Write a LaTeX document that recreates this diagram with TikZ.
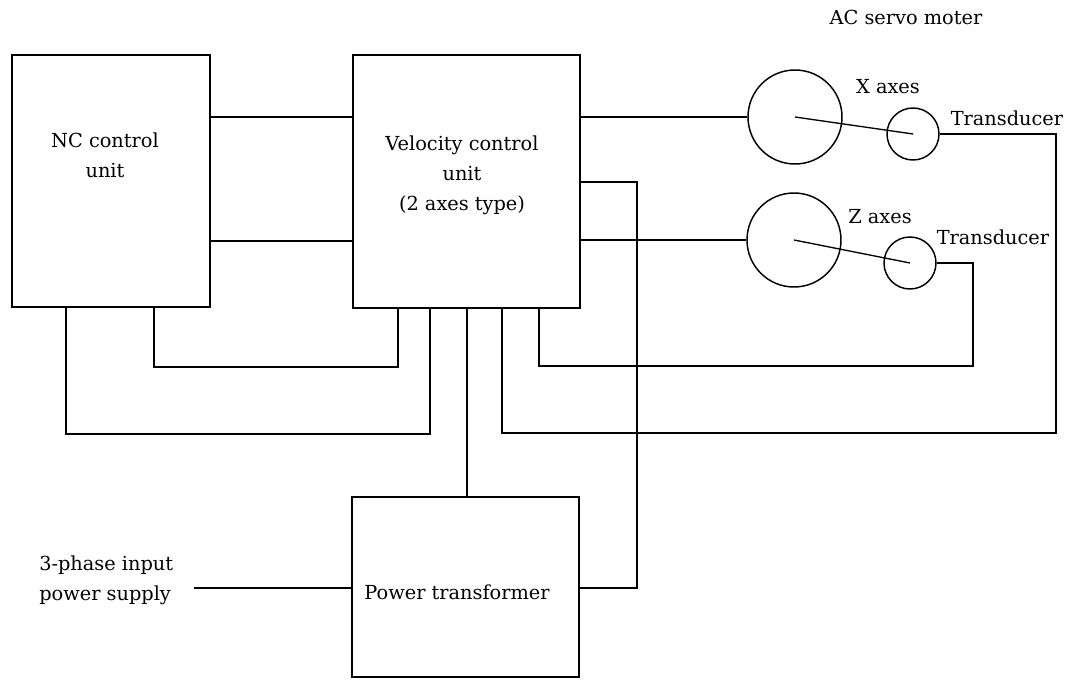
\documentclass[tikz,border=0pt]{standalone}
\usepackage{fontspec}
\setmainfont{DejaVu Serif}
\begin{document}
\begin{tikzpicture}[x=0.75pt,y=-0.75pt,
  box/.style={draw,line width=1.3pt,inner sep=0pt},
  motor/.style={draw,circle,line width=1.1pt,inner sep=0pt,minimum size=70.5pt},
  trans/.style={draw,circle,line width=1.1pt,inner sep=0pt,minimum size=39pt},
  wire/.style={line width=1pt},
  lbl/.style={font=\fontsize{14.5}{22.5}\selectfont,inner sep=0pt,align=center}]
\useasboundingbox (0,0) rectangle (1068,680);
% boxes
\node[box,minimum width=148.5pt,minimum height=189pt] (nc) at (111,181) {};
\node[box,minimum width=170.25pt,minimum height=189.75pt] (vcu) at (466.5,181.5) {};
\node[box,minimum width=170.25pt,minimum height=135pt] (pt) at (465.5,587) {};
% labels in boxes
\node[lbl] (nctext) at (105,155) {NC control\\unit};
\node[lbl] (vcutext) at (462,175) {Velocity control\\unit\\(2 axes type)};
\node[lbl] (pttext) at (457,592) {Power transformer};
% motors and transducers
\node[motor] (xm) at (795,117) {};
\node[trans] (xt) at (913,134) {};
\node[motor] (zm) at (794,240) {};
\node[trans] (zt) at (910,263) {};
\node[lbl] (actext) at (906,17) {AC servo moter};
\node[lbl] (xtext) at (888,87) {X axes};
\node[lbl] (xttext) at (1007,118) {Transducer};
\node[lbl] (ztext) at (880,217) {Z axes};
\node[lbl] (zttext) at (993,237) {Transducer};
\node[lbl,align=left,anchor=west] (inp) at (39,580) {3-phase input\\power supply};
% helper coordinates
\coordinate (y117) at (0,117);
\coordinate (y241) at (0,241);
\coordinate (y240) at (0,240);
\coordinate (y182) at (0,182);
\coordinate (c66) at (66,0);
\coordinate (c154) at (154,0);
\coordinate (c398) at (398,0);
\coordinate (c430) at (430,0);
\coordinate (c467) at (467,0);
\coordinate (c502) at (502,0);
\coordinate (c539) at (539,0);
\coordinate (xl) at (1056,433);
\coordinate (zl) at (973,366);
\coordinate (nl1) at (154,367);
\coordinate (nl2) at (66,434);
\coordinate (pr) at (637,588);
\coordinate (in) at (194,588);
% connectors
\draw[wire] (nc.east|-y117) -- (vcu.west|-y117);
\draw[wire] (nc.east|-y241) -- (vcu.west|-y241);
\draw[wire] (vcu.east|-y117) -- (xm.west);
\draw[wire] (vcu.east|-y240) -- (zm.west);
\draw[wire] (xm.center) -- (xt.center);
\draw[wire] (zm.center) -- (zt.center);
\draw[wire] (xt.east) -| (xl) -| (vcu.south-|c502);
\draw[wire] (zt.east) -| (zl) -| (vcu.south-|c539);
\draw[wire] (nc.south-|c154) -- (nl1) -| (vcu.south-|c398);
\draw[wire] (nc.south-|c66) -- (nl2) -| (vcu.south-|c430);
\draw[wire] (vcu.south-|c467) -- (pt.north-|c467);
\draw[wire] (vcu.east|-y182) -| (pr) -- (pt.east|-pr);
\draw[wire] (in) -- (pt.west|-in);
\end{tikzpicture}
\end{document}
